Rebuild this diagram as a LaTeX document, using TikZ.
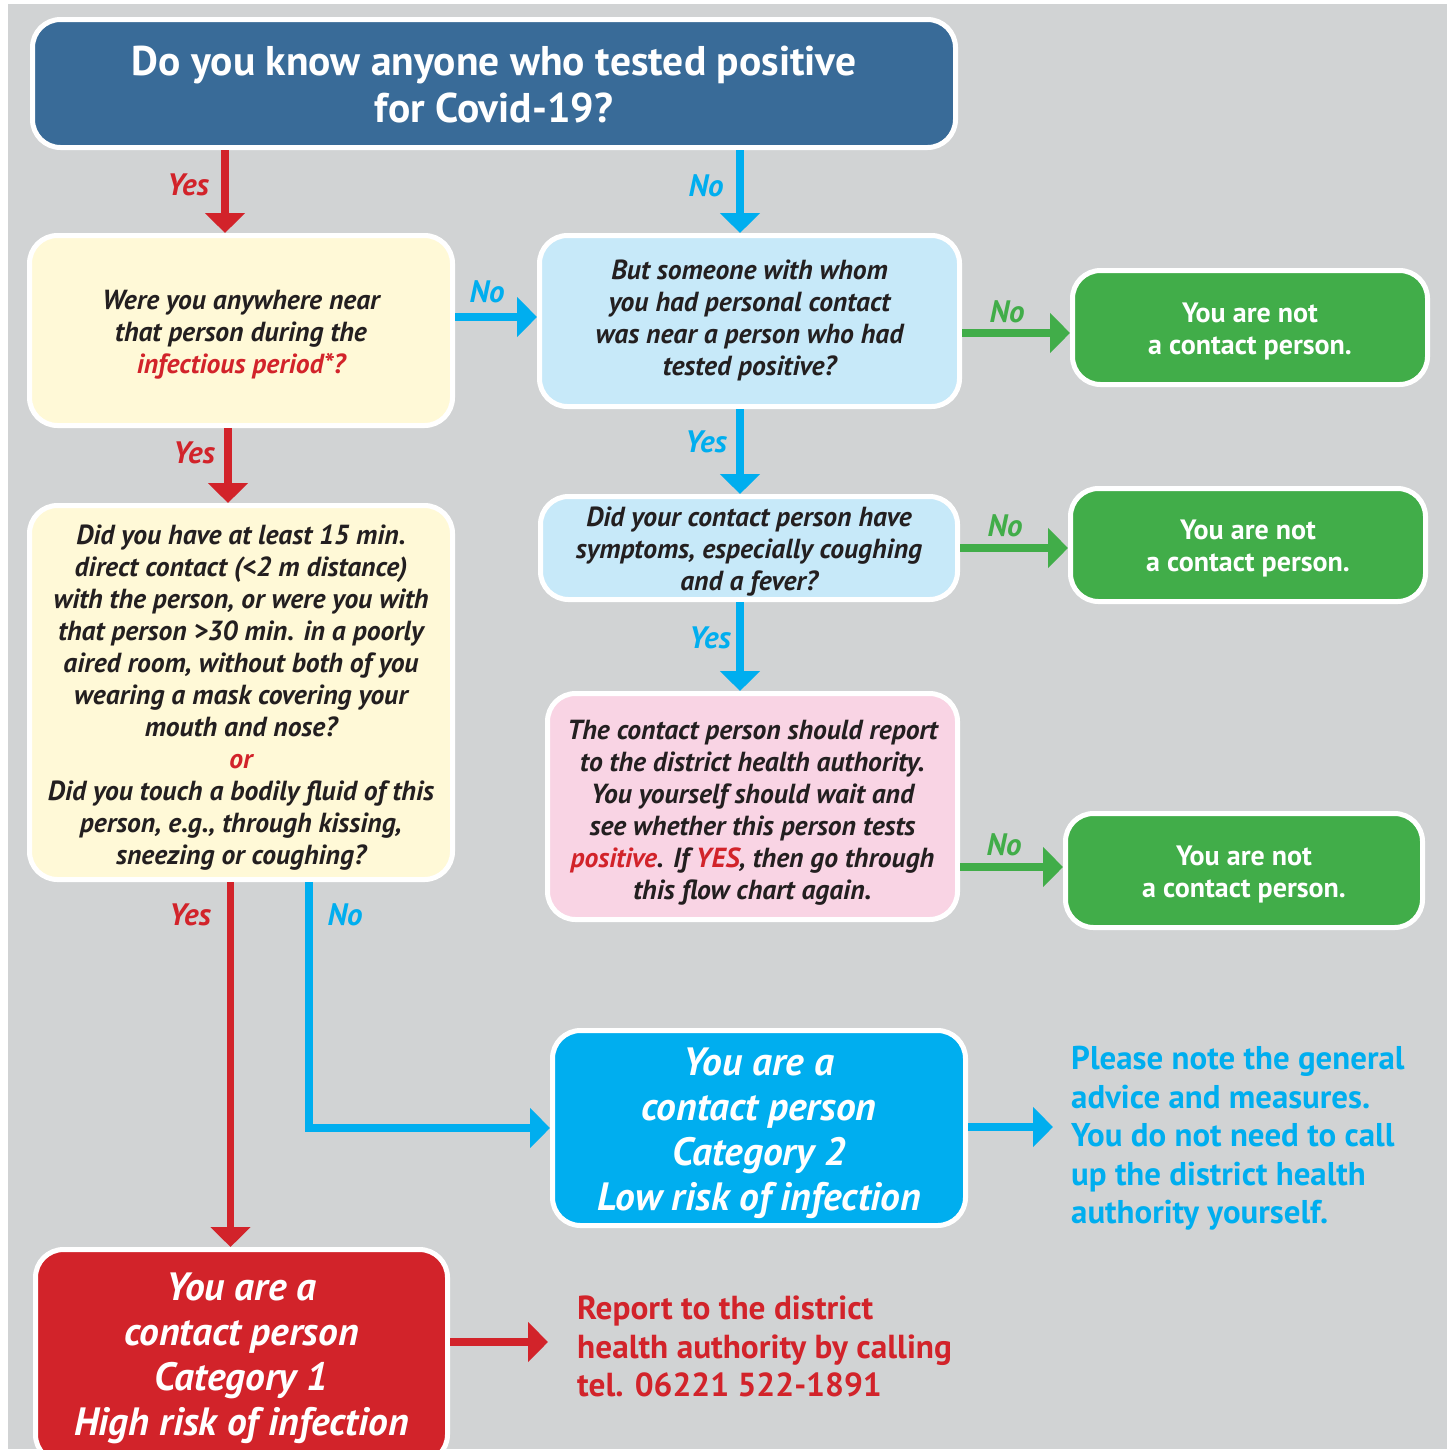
\documentclass[tikz,border=0pt]{standalone}
\usepackage{fontspec}
\setmainfont{PT Sans}
\usetikzlibrary{arrows.meta}
\definecolor{bg}{HTML}{D1D3D4}
\definecolor{topblue}{HTML}{396B98}
\definecolor{ylw}{HTML}{FFF9D7}
\definecolor{lblue}{HTML}{C7E9F9}
\definecolor{grn}{HTML}{41AD49}
\definecolor{pnk}{HTML}{F9D4E4}
\definecolor{cyn}{HTML}{00AEEF}
\definecolor{rd}{HTML}{D2232A}
\definecolor{txt}{HTML}{231F20}
% optional arg: twice the downward shift of the text block
\newcommand{\mlines}[2][10pt]{\begin{tabular}{@{}c@{}}#2\\[-#1]\end{tabular}}
\tikzset{
  box/.style={rectangle, rounded corners=28pt, draw=white, line width=5pt, inner sep=0pt, align=center, text=txt},
  qtext/.style={font=\fontsize{27.6}{32}\selectfont\bfseries\itshape},
  gbox/.style={box, fill=grn, text=white, font=\fontsize{28}{32}\selectfont\bfseries},
  lab/.style={font=\fontsize{31}{32}\selectfont\bfseries\itshape, inner sep=0pt},
  conn/.style={line width=7.5pt, -{Triangle[width=39pt,length=20pt]}},
  redc/.style={conn, draw=rd},
  bluec/.style={conn, draw=cyn},
  grnc/.style={conn, draw=grn},
}
\begin{document}
\begin{tikzpicture}[x=1pt,y=-1pt]
\useasboundingbox (0,0) rectangle (1451,1449);
\clip (0,0) rectangle (1451,1449);
\fill[bg] (8,4) rectangle (1447,1449);

% boxes
\node[box, fill=topblue, text=white, minimum width=923pt, minimum height=128pt,
  font=\fontsize{41.5}{47}\selectfont\bfseries] (top) at (494,83.5)
  {\mlines[12pt]{Do you know anyone who tested positive\\for Covid-19?}};
\node[box, fill=ylw, qtext, minimum width=423pt, minimum height=190pt] (q1) at (241,330.5)
  {\mlines[10pt]{Were you anywhere near\\that person during the\\\textcolor{rd}{infectious period*?}}};
\node[box, fill=lblue, qtext, minimum width=420pt, minimum height=171pt] (lb1) at (749.5,321)
  {\mlines[0pt]{But someone with whom\\you had personal contact\\was near a person who had\\tested positive?}};
\node[gbox, minimum width=355pt, minimum height=114pt] (g1) at (1250,327.5)
  {\mlines[10pt]{You are not\\a contact person.}};
\node[box, fill=lblue, qtext, minimum width=417pt, minimum height=103pt] (lb2) at (749,548)
  {\mlines[8pt]{Did your contact person have\\symptoms, especially coughing\\and a fever?}};
\node[gbox, minimum width=355pt, minimum height=113pt] (g2) at (1248,545)
  {\mlines[8pt]{You are not\\a contact person.}};
\node[box, fill=ylw, qtext, minimum width=423pt, minimum height=374pt] (q2) at (241,692.5)
  {\mlines[12pt]{Did you have at least 15 min.\\direct contact (<2 m distance)\\with the person, or were you with\\that person >30 min. in a poorly\\aired room, without both of you\\wearing a mask covering your\\mouth and nose?\\\textcolor{rd}{or}\\Did you touch a bodily fluid of this\\person, e.g., through kissing,\\sneezing or coughing?}};
\node[box, fill=pnk, qtext, minimum width=410pt, minimum height=226pt] (pk) at (752.5,806.5)
  {\mlines[14pt]{The contact person should report\\to the district health authority.\\You yourself should wait and\\see whether this person tests\\\textcolor{rd}{positive}. If \textcolor{rd}{YES}, then go through\\this flow chart again.}};
\node[gbox, minimum width=357pt, minimum height=114pt] (g3) at (1244,870.5)
  {\mlines[10pt]{You are not\\a contact person.}};
\node[box, fill=cyn, text=white, minimum width=413pt, minimum height=195pt,
  font=\fontsize{39.5}{45}\selectfont\bfseries\itshape] (c2) at (759,1128)
  {\mlines[12pt]{You are a\\contact person\\Category 2\\Low risk of infection}};
\node[box, fill=rd, text=white, minimum width=412pt, minimum height=213pt,
  font=\fontsize{39.5}{45}\selectfont\bfseries\itshape] (c1) at (241.5,1356)
  {\mlines[5pt]{You are a\\contact person\\Category 1\\High risk of infection}};

% notes
\node[anchor=west, align=left, inner sep=0pt, text=cyn, font=\fontsize{32.9}{38.5}\selectfont\bfseries] (n2) at (1071,1138.5)
  {Please note the general\\advice and measures.\\You do not need to call\\up the district health\\authority yourself.};
\node[anchor=west, align=left, inner sep=0pt, text=rd, font=\fontsize{33.3}{38.5}\selectfont\bfseries] (n1) at (577,1346.5)
  {Report to the district\\health authority by calling\\tel. 06221 522-1891};

% helper coordinates
\coordinate (xa) at (225,0);
\coordinate (xb) at (740,0);
\coordinate (xc) at (228,0);
\coordinate (xd) at (230.5,0);
\coordinate (xe) at (309,0);
\coordinate (ya) at (0,317);
\coordinate (yb) at (0,333);
\coordinate (yc) at (0,548);
\coordinate (yd) at (0,867);
\coordinate (ye) at (0,1342);
\coordinate (t2) at (1053,1127);
\coordinate (t1) at (548,1342);

% connectors
\draw[redc] (top.south -| xa) -- (q1.north -| xa);
\draw[bluec] (top.south -| xb) -- (lb1.north -| xb);
\draw[bluec] (q1.east |- ya) -- (lb1.west |- ya);
\draw[grnc] (lb1.east |- yb) -- (g1.west |- yb);
\draw[redc] (q1.south -| xc) -- (q2.north -| xc);
\draw[bluec] (lb1.south -| xb) -- (lb2.north -| xb);
\draw[grnc] (lb2.east |- yc) -- (g2.west |- yc);
\draw[bluec] (lb2.south -| xb) -- (pk.north -| xb);
\draw[grnc] (pk.east |- yd) -- (g3.west |- yd);
\draw[redc] (q2.south -| xd) -- (c1.north -| xd);
\draw[bluec] (q2.south -| xe) |- (c2.west);
\draw[bluec] (c2.east |- t2) -- (t2);
\draw[redc] (c1.east |- ye) -- (t1);

% labels
\node[lab, text=rd] (l1) at (188,185) {Yes};
\node[lab, text=cyn] (l2) at (706,186) {No};
\node[lab, text=cyn] (l3) at (487,292) {No};
\node[lab, text=grn] (l4) at (1007,312) {No};
\node[lab, text=rd] (l5) at (194,453) {Yes};
\node[lab, text=cyn] (l6) at (706,442) {Yes};
\node[lab, text=grn] (l7) at (1005,526) {No};
\node[lab, text=cyn] (l8) at (710,638) {Yes};
\node[lab, text=grn] (l9) at (1004,845) {No};
\node[lab, text=rd] (l10) at (190,915) {Yes};
\node[lab, text=cyn] (l11) at (345,915) {No};
\end{tikzpicture}
\end{document}
